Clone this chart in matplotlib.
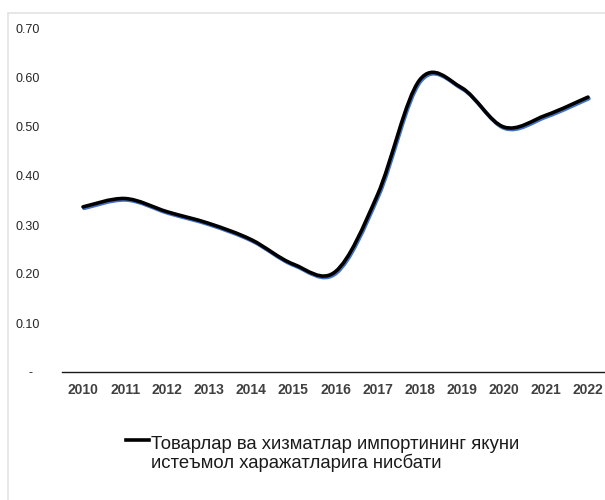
import matplotlib
matplotlib.use("Agg")
import matplotlib.pyplot as plt
from matplotlib.path import Path
from matplotlib.patches import PathPatch, Rectangle
from matplotlib.lines import Line2D
import matplotlib.transforms as mtransforms

# data
years = ["2010", "2011", "2012", "2013", "2014", "2015", "2016",
         "2017", "2018", "2019", "2020", "2021", "2022"]
values = [0.337, 0.354, 0.327, 0.303, 0.270, 0.220, 0.205,
          0.362, 0.596, 0.580, 0.500, 0.524, 0.561]
ytick_vals = [0.0, 0.1, 0.2, 0.3, 0.4, 0.5, 0.6, 0.7]
ytick_labels = ["-  ", "0.10", "0.20", "0.30", "0.40", "0.50", "0.60", "0.70"]
series_name = ["Товарлар ва хизматлар импортининг якуни",
               "истеъмол харажатларига нисбати"]

plt.rcParams['font.family'] = ['Liberation Sans', 'DejaVu Sans']

W, H = 605, 500
fig = plt.figure(figsize=(W / 100, H / 100), dpi=100)
fig.patches.append(Rectangle((8 / W, -0.1), 1.2, (H - 13) / H + 0.1,
                             transform=fig.transFigure, fill=False,
                             edgecolor='#e3e3e3', linewidth=1.2))

ax = fig.add_axes([62 / W, 128 / H, 547 / W, 343 / H])

# smoothed line (excel style bezier through the points)
xs = list(range(len(values)))
pts = list(zip(xs, values))
verts = [pts[0]]
codes = [Path.MOVETO]
for i in range(len(pts) - 1):
    p0 = pts[i - 1] if i > 0 else pts[i]
    p1 = pts[i]
    p2 = pts[i + 1]
    p3 = pts[i + 2] if i + 2 < len(pts) else pts[i + 1]
    c1 = (p1[0] + (p2[0] - p0[0]) / 6, p1[1] + (p2[1] - p0[1]) / 6)
    c2 = (p2[0] - (p3[0] - p1[0]) / 6, p2[1] - (p3[1] - p1[1]) / 6)
    verts += [c1, c2, p2]
    codes += [Path.CURVE4] * 3
path = Path(verts, codes)

shadow = mtransforms.offset_copy(ax.transData, fig=fig, x=1.0, y=-1.5, units='dots')
ax.add_patch(PathPatch(path, facecolor='none', edgecolor='#4472C4', linewidth=2.6,
                       transform=shadow, capstyle='round'))
ax.add_patch(PathPatch(path, facecolor='none', edgecolor='black', linewidth=2.6,
                       capstyle='round'))

ax.set_xlim(-0.5, len(years) - 0.5)
ax.set_ylim(0, 0.7)
ax.set_xticks(xs)
ax.set_xticklabels(years, fontsize=10, fontweight='bold', color='#404040')
ax.set_yticks(ytick_vals)
ax.set_yticklabels(ytick_labels, fontsize=9, color='#262626')
ax.tick_params(axis='both', length=0)
ax.tick_params(axis='y', pad=16)
ax.tick_params(axis='x', pad=8)
for s in ['top', 'right', 'left']:
    ax.spines[s].set_visible(False)
ax.spines['bottom'].set_color('#1a1a1a')
ax.spines['bottom'].set_linewidth(1.0)

# legend, drawn by hand so the key sits on the first line
fig.add_artist(Line2D([126 / W, 149 / W], [1 - 440 / H, 1 - 440 / H],
                      transform=fig.transFigure, color='black', linewidth=2.6))
fig.text(151 / W, 1 - 449 / H, series_name[0], fontsize=13.3, va='baseline',
         color='#1a1a1a')
fig.text(151 / W, 1 - 468 / H, series_name[1], fontsize=13.3, va='baseline',
         color='#1a1a1a')

fig.savefig("out.png", dpi=100)
